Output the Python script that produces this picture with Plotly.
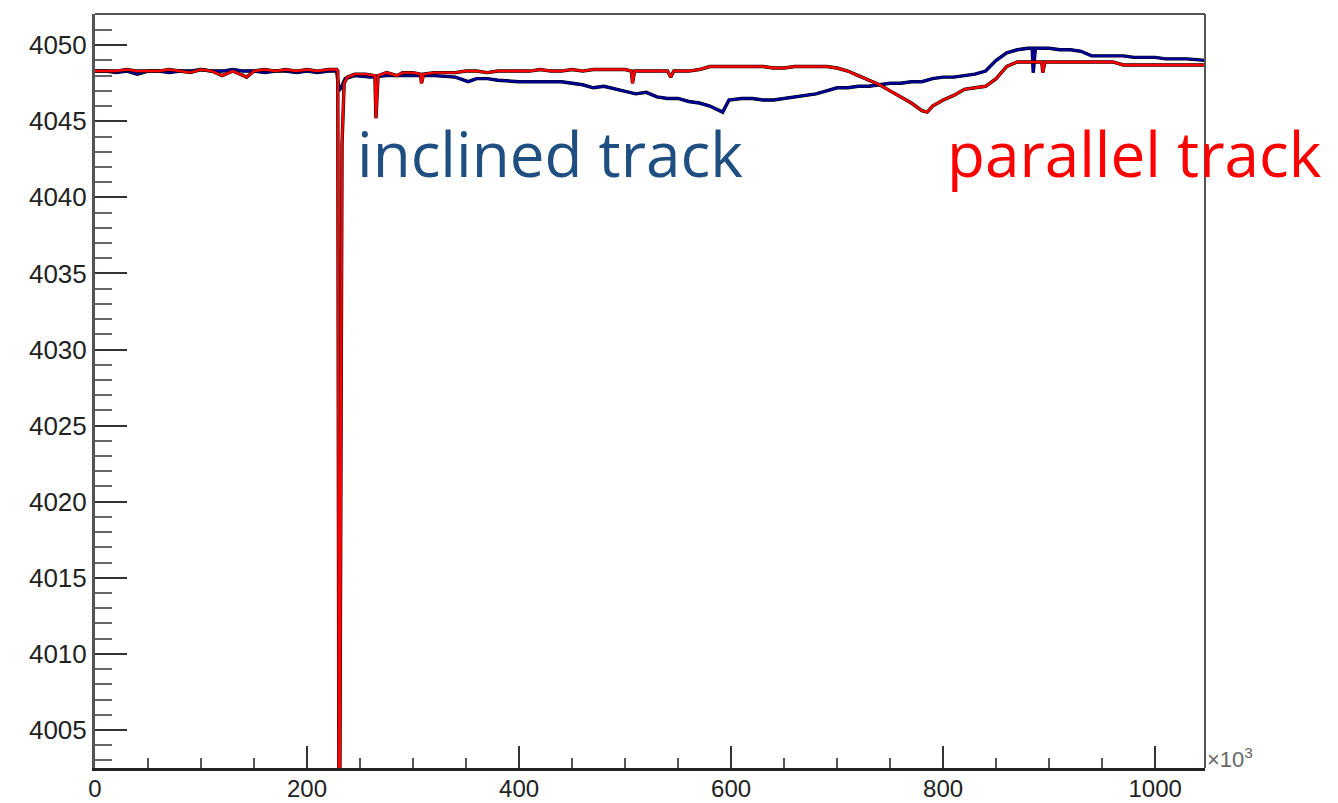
import plotly.graph_objects as go

# ---- data ----
x_blue = [0, 10, 20, 30, 40, 50, 60, 70, 80, 90, 100, 110, 120, 130, 140, 150, 160, 170, 180,
          190, 200, 210, 220, 228, 230, 232, 236, 245, 260, 275, 290, 305, 320, 340, 352, 360,
          370, 380, 400, 420, 440, 460, 470, 480, 500, 510, 520, 530, 540, 550, 560, 570, 580,
          588, 592, 598, 610, 620, 630, 640, 650, 660, 670, 680, 690, 700, 710, 720, 730, 740,
          750, 760, 770, 780, 790, 800, 810, 820, 830, 840, 850, 860, 870, 880, 884, 885, 887,
          890, 900, 910, 920, 930, 940, 950, 960, 970, 980, 990, 1000, 1010, 1020, 1030, 1047]
y_blue = [4048.3, 4048.3, 4048.2, 4048.3, 4048.1, 4048.3, 4048.3, 4048.2, 4048.3, 4048.3, 4048.4,
          4048.3, 4048.3, 4048.4, 4048.3, 4048.3, 4048.2, 4048.3, 4048.3, 4048.2, 4048.3, 4048.2,
          4048.3, 4048.3, 4047.0, 4047.2, 4047.8, 4048.0, 4047.9, 4048.0, 4048.0, 4048.0, 4048.0,
          4047.9, 4047.6, 4047.8, 4047.8, 4047.7, 4047.6, 4047.6, 4047.6, 4047.4, 4047.2, 4047.3,
          4047.0, 4046.8, 4046.9, 4046.6, 4046.5, 4046.5, 4046.3, 4046.2, 4046.0, 4045.7, 4045.6,
          4046.4, 4046.5, 4046.5, 4046.4, 4046.4, 4046.5, 4046.6, 4046.7, 4046.8, 4047.0, 4047.2,
          4047.2, 4047.3, 4047.3, 4047.4, 4047.5, 4047.5, 4047.6, 4047.6, 4047.8, 4047.9, 4047.9,
          4048.0, 4048.1, 4048.3, 4049.0, 4049.5, 4049.7, 4049.8, 4049.8, 4048.2, 4049.8, 4049.8,
          4049.8, 4049.7, 4049.7, 4049.6, 4049.3, 4049.3, 4049.3, 4049.3, 4049.2, 4049.2, 4049.2,
          4049.1, 4049.1, 4049.1, 4049.0]

x_red = [0, 10, 20, 30, 40, 50, 60, 70, 80, 90, 100, 110, 120, 130, 140, 143, 150, 160, 170, 180,
         190, 200, 210, 220, 228, 229, 230, 231, 233, 235, 238, 245, 255, 264, 265, 267, 275, 285,
         290, 300, 307, 308, 310, 320, 330, 340, 350, 360, 370, 380, 390, 400, 410, 420, 430, 440,
         450, 460, 470, 480, 490, 500, 506, 507, 509, 520, 530, 540, 543, 546, 560, 570, 580, 590,
         600, 610, 620, 630, 640, 650, 660, 670, 680, 690, 700, 710, 720, 730, 740, 750, 760, 770,
         780, 785, 790, 800, 810, 820, 830, 840, 850, 860, 870, 880, 893, 894, 896, 900, 920, 940,
         960, 970, 990, 1010, 1030, 1047]
y_red = [4048.3, 4048.3, 4048.3, 4048.4, 4048.3, 4048.3, 4048.3, 4048.4, 4048.3, 4048.2, 4048.4,
         4048.3, 4048.0, 4048.3, 4048.0, 4047.9, 4048.3, 4048.4, 4048.3, 4048.4, 4048.3, 4048.4,
         4048.3, 4048.4, 4048.4, 4048.3, 4002.0, 4002.0, 4043.5, 4047.5, 4047.9, 4048.1, 4048.1,
         4048.0, 4045.2, 4048.0, 4048.2, 4048.0, 4048.2, 4048.2, 4048.1, 4047.5, 4048.1, 4048.2,
         4048.2, 4048.2, 4048.3, 4048.3, 4048.2, 4048.3, 4048.3, 4048.3, 4048.3, 4048.4, 4048.3,
         4048.3, 4048.4, 4048.3, 4048.4, 4048.4, 4048.4, 4048.4, 4048.3, 4047.5, 4048.3, 4048.3,
         4048.3, 4048.3, 4047.9, 4048.3, 4048.3, 4048.4, 4048.6, 4048.6, 4048.6, 4048.6, 4048.6,
         4048.6, 4048.5, 4048.5, 4048.6, 4048.6, 4048.6, 4048.6, 4048.5, 4048.3, 4048.0, 4047.7,
         4047.4, 4047.0, 4046.6, 4046.2, 4045.7, 4045.6, 4046.0, 4046.4, 4046.7, 4047.1, 4047.2,
         4047.3, 4047.8, 4048.6, 4048.9, 4048.9, 4048.9, 4048.2, 4048.9, 4048.9, 4048.9, 4048.9,
         4048.9, 4048.7, 4048.7, 4048.7, 4048.7, 4048.7]

x_range = [0, 1047]
y_range = [4002.5, 4052.05]
y_tick0 = 4005
y_dtick = 5
x_dtick = 200

fig = go.Figure()
for xs, ys, col in [(x_blue, y_blue, "#000099"), (x_red, y_red, "#ff0000")]:
    fig.add_trace(go.Scatter(x=xs, y=ys, mode="lines",
                             line=dict(color="black", width=3.4), hoverinfo="skip",
                             showlegend=False))
    fig.add_trace(go.Scatter(x=xs, y=ys, mode="lines",
                             line=dict(color=col, width=2.4), showlegend=False))

fig.update_layout(
    width=1338, height=803,
    margin=dict(l=95, r=133, t=14, b=35),
    paper_bgcolor="white", plot_bgcolor="white",
    font=dict(family="Liberation Sans, Arial, sans-serif", color="#222222", size=26),
    xaxis=dict(range=x_range, dtick=x_dtick, tick0=0, ticks="inside", ticklen=22,
               tickwidth=2, tickcolor="#333", showline=True, linecolor="#222",
               linewidth=3, mirror=False, showgrid=False, zeroline=False, automargin=False,
               minor=dict(dtick=50, ticks="inside", ticklen=10, tickwidth=2, tickcolor="#555"),
               tickfont=dict(size=24), ticklabelstandoff=-3),
    yaxis=dict(range=y_range, dtick=y_dtick, tick0=y_tick0, ticks="inside", ticklen=32,
               tickwidth=2, tickcolor="#333", showline=True, linecolor="#555",
               linewidth=3, mirror=False, showgrid=False, zeroline=False, automargin=False,
               minor=dict(dtick=1, ticks="inside", ticklen=17, tickwidth=2, tickcolor="#666"),
               tickfont=dict(size=26)),
    shapes=[
        dict(type="line", xref="paper", yref="paper", x0=0, x1=1, y0=1, y1=1,
             line=dict(color="#555", width=2)),
        dict(type="line", xref="paper", yref="paper", x0=1, x1=1, y0=0, y1=1,
             line=dict(color="#555", width=2)),
    ],
    annotations=[
        dict(text="inclined track", xref="paper", yref="paper", x=0.234, y=0.815,
             xanchor="left", yanchor="middle", showarrow=False,
             font=dict(family="Open Sans, sans-serif", size=62, color="#1f4e80")),
        dict(text="parallel track", xref="paper", yref="paper", x=0.766, y=0.815,
             xanchor="left", yanchor="middle", showarrow=False,
             font=dict(family="Open Sans, sans-serif", size=62, color="#ff0000")),
        dict(text="×10<sup>3</sup>", xref="paper", yref="paper", x=1.0, y=0.0,
             xanchor="left", yanchor="middle", showarrow=False, yshift=10,
             font=dict(family="Liberation Sans, Arial, sans-serif", size=22, color="#666")),
    ],
)

fig.write_html("out.html")
